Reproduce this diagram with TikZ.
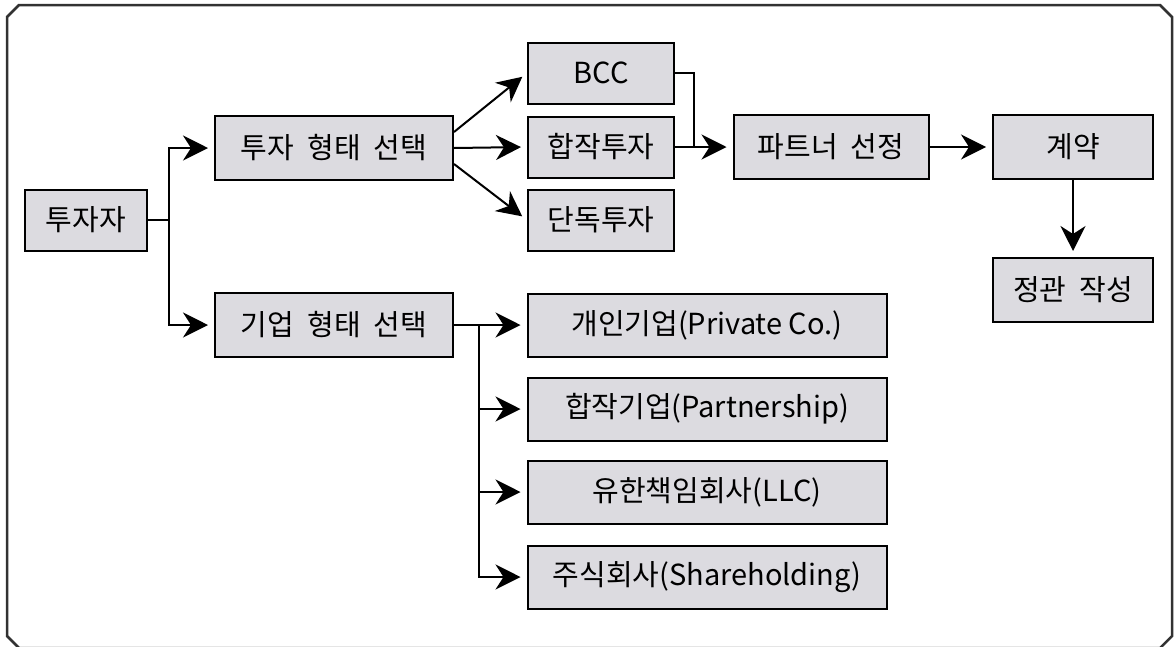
\documentclass[tikz,border=0pt]{standalone}
\usepackage{fontspec}
\setmainfont{Noto Sans CJK KR}
\usepackage{tikz}
\usepackage{xcolor}
\usetikzlibrary{arrows.meta, positioning, calc}

\definecolor{boxgray}{RGB}{220,219,224}
\definecolor{framegray}{RGB}{50,50,50}

\tikzset{
  box/.style={draw, line width=2pt, fill=boxgray, inner sep=0pt,
    font=\fontsize{29}{32}\selectfont},
  link/.style={line width=2pt, -{Stealth[length=25pt,width=25pt,inset=8pt]}, shorten >=6pt},
  wire/.style={line width=2pt},
}

\begin{document}
\begin{tikzpicture}[x=1pt, y=-1pt]
  \useasboundingbox (0,0) rectangle (1174,646);
  % outer frame
  \draw[line width=2.5pt, framegray] (7,17) -- (19,5) -- (1160,5) -- (1172,17)
    -- (1172,636) -- (1160,648) -- (19,648) -- (7,636) -- cycle;

  % boxes
  \node[box, minimum width=122pt, minimum height=61pt] (inv) at (86,220) {투자자};
  \node[box, minimum width=238pt, minimum height=64pt] (invtype) at (334,148) {투자 \ 형태 \ 선택};
  \node[box, minimum width=238pt, minimum height=64pt] (corptype) at (334,325) {기업 \ 형태 \ 선택};
  \node[box, minimum width=146pt, minimum height=61pt] (bcc) at (601,73) {BCC};
  \node[box, minimum width=146pt, minimum height=61pt] (joint) at (601,147) {합작투자};
  \node[box, minimum width=146pt, minimum height=61pt] (solo) at (601,220) {단독투자};
  \node[box, minimum width=195pt, minimum height=64pt] (partner) at (831,147) {파트너 \ 선정};
  \node[box, minimum width=160pt, minimum height=64pt] (contract) at (1073,147) {계약};
  \node[box, minimum width=160pt, minimum height=64pt] (charter) at (1073,290) {정관 \ 작성};
  \node[box, minimum width=359pt, minimum height=63pt] (private) at (707,325) {개인기업(Private Co.)};
  \node[box, minimum width=359pt, minimum height=63pt] (partnership) at (707,409) {합작기업(Partnership)};
  \node[box, minimum width=359pt, minimum height=63pt] (llc) at (707,492) {유한책임회사(LLC)};
  \node[box, minimum width=359pt, minimum height=63pt] (stock) at (707,577) {주식회사(Shareholding)};

  % junctions
  \coordinate (split) at (169,220);
  \coordinate (join) at ([xshift=19pt]joint.east);
  \coordinate (trunk) at (479,325);

  % Draw arrows
  \draw[wire] (inv.east) -- (split);
  \draw[link] (split) |- (invtype.west);
  \draw[link] (split) |- (corptype.west);
  \draw[link] ([yshift=16pt]invtype.east) -- (bcc.west);
  \draw[link] (invtype.east) -- (joint.west);
  \draw[link] ([yshift=-16pt]invtype.east) -- (solo.west);
  \draw[wire] (bcc.east) -| (join);
  \draw[link] (joint.east) -- (partner.west);
  \draw[link] (partner.east) -- (contract.west);
  \draw[link] (contract.south) -- (charter.north);
  \draw[wire] (corptype.east) -- (trunk);
  \foreach \b in {private, partnership, llc, stock} {
    \draw[link] (trunk) |- (\b.west);
  }
\end{tikzpicture}
\end{document}
